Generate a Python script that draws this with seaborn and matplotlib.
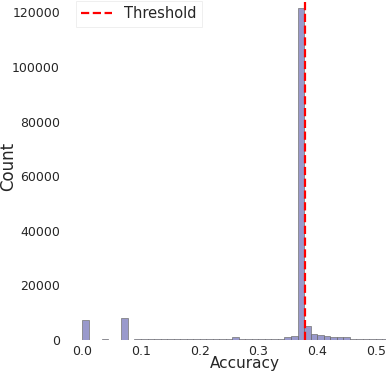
"""Accuracy histogram with threshold marker."""
import matplotlib
matplotlib.use("Agg")
import matplotlib.pyplot as plt
import numpy as np
import pandas as pd
import seaborn as sns

# ---- data ------------------------------------------------------------------ #
BIN_WIDTH = 0.5 / 45
bin_counts = [
    7200, 0, 0, 300, 0, 0, 8000, 0, 300, 250,
    250, 300, 250, 250, 250, 250, 250, 250, 250, 250,
    250, 250, 250, 1000, 350, 350, 350, 350, 350, 350,
    350, 1200, 1460, 121500, 5100, 2200, 1830, 1600, 1250, 1000,
    1000, 500, 300, 300, 400, 250, 250, 200,
]
threshold = 0.38
x_ticks = [0.0, 0.1, 0.2, 0.3, 0.4, 0.5]
y_ticks = [0, 20000, 40000, 60000, 80000, 100000, 120000]

n_bins = len(bin_counts)
df = pd.DataFrame({
    "accuracy": (np.arange(n_bins) + 0.5) * BIN_WIDTH,
    "count": bin_counts,
})

# ---- plot ------------------------------------------------------------------ #
sns.set_style("white")
plt.rcParams["font.family"] = ["DejaVu Sans"]

fig = plt.figure(figsize=(3.86, 3.74), dpi=100)
# axes runs past the right/top edge, as in the cropped original
ax = fig.add_axes([69 / 386, (374 - 340) / 374, 351 / 386, 346 / 374])

sns.histplot(data=df, x="accuracy", weights="count", binwidth=BIN_WIDTH,
             binrange=(0, n_bins * BIN_WIDTH), ax=ax,
             color="navy", alpha=0.4, edgecolor="0.45", linewidth=0.5)
ax.axvline(threshold, color="red", linestyle="--", linewidth=1.6,
           label="Threshold")

ax.set_xlim(-0.0227, 0.5753)
ax.set_ylim(0, 126700)
ax.set_xticks(x_ticks)
ax.set_yticks(y_ticks)
ax.tick_params(labelsize=9)
ax.tick_params(axis="x", pad=0)
ax.tick_params(axis="y", pad=3)
ax.set_xlabel("Accuracy", fontsize=11)
ax.set_ylabel("Count", fontsize=12)
ax.xaxis.set_label_coords(0.5, -0.0465)
ax.yaxis.set_label_coords(-0.148, 0.501)
sns.despine(ax=ax, left=True, bottom=True)
leg = ax.legend(loc="upper left", fontsize=10.5, handlelength=2.1,
                fancybox=False, framealpha=1.0, borderaxespad=0.45)
leg.get_frame().set_edgecolor("0.93")
leg.get_frame().set_linewidth(0.6)

fig.savefig("out.png", dpi=100)
